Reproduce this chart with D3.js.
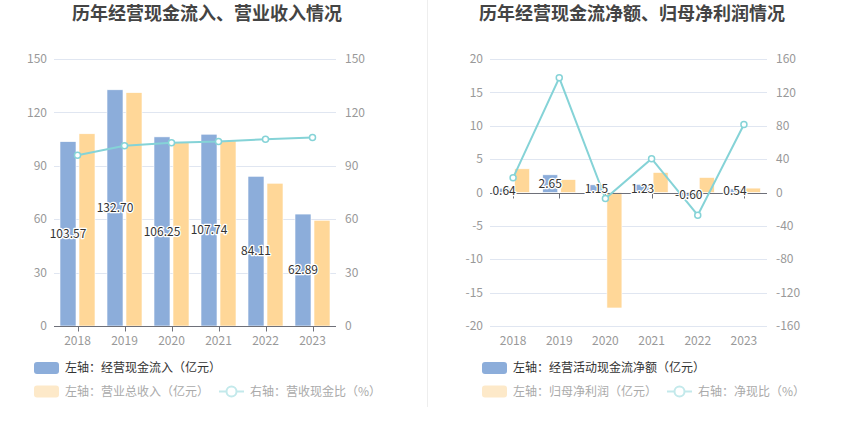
<!DOCTYPE html>
<html><head><meta charset="utf-8">
<script src="https://cdn.jsdelivr.net/npm/d3@7/dist/d3.min.js"></script>
<style>body{margin:0;background:#fff;font-family:"Noto Sans CJK SC","Noto Sans",sans-serif;}</style>
</head><body><svg id="c" width="850" height="437"></svg>
<script>
const years = ["2018","2019","2020","2021","2022","2023"];
// Left chart
const cashInflow = [103.57,132.70,106.25,107.74,84.11,62.89];
const revenue = [108.0,131.1,103.3,104.0,80.2,59.4];
const cashRatio = [95.9,101.2,102.9,103.6,104.9,105.9];
const leftTicks = [0,30,60,90,120,150];
// Right chart
const netCash = [0.64,2.65,1.15,1.23,-0.60,0.54];
const netProfit = [3.55,1.93,-17.3,3.0,2.25,0.66];
const netRatio = [17.6,137.5,-7.2,40.5,-27.2,81.5];
const rLeftTicks = [-20,-15,-10,-5,0,5,10,15,20];
const rRightTicks = [-160,-120,-80,-40,0,40,80,120,160];

const C_BLUE="#8cadda", C_ORANGE="#ffd798", C_LINE="#85d3d7";
const svg = d3.select("#c");
const FONT = '"Noto Sans CJK SC","Noto Sans",sans-serif';

svg.append("line").attr("x1",427.5).attr("x2",427.5).attr("y1",0).attr("y2",407).attr("stroke","#eee");

function chart(o){
  const g = svg.append("g");
  g.append("text").attr("x",o.titleX).attr("y",20).attr("text-anchor","middle")
   .attr("font-size",18).attr("font-weight","bold").attr("fill","#444").attr("font-family",FONT).text(o.title);
  const x = d3.scaleBand().domain(years).range([o.x0,o.x1]);
  const yL = d3.scaleLinear().domain(o.yLdom).range([326,59]);
  const yR = d3.scaleLinear().domain(o.yRdom).range([326,59]);
  // grid
  g.selectAll(".grid").data(o.lTicks).join("line")
   .attr("x1",o.x0).attr("x2",o.x1).attr("y1",d=>Math.round(yL(d))+0.5).attr("y2",d=>Math.round(yL(d))+0.5)
   .attr("stroke","#e0e6f1");
  // left axis labels
  g.selectAll(".ll").data(o.lTicks).join("text").attr("x",o.x0-7).attr("y",d=>yL(d)).attr("dy","0.35em")
   .attr("text-anchor","end").attr("font-size",12).attr("fill","#999").attr("font-family",FONT).text(d=>d);
  g.selectAll(".rl").data(o.rTicks).join("text").attr("x",o.x1+9).attr("y",d=>yR(d)).attr("dy","0.35em")
   .attr("text-anchor","start").attr("font-size",12).attr("fill","#999").attr("font-family",FONT).text(d=>d);
  const bw = o.bw, gap = 3;
  const cx = d=>x(d)+x.bandwidth()/2;
  // bars
  g.selectAll(".b1").data(years).join("rect")
   .attr("x",(d)=>cx(d)-gap/2-bw).attr("width",bw)
   .attr("y",(d,i)=>Math.min(yL(o.s1[i]),yL(0))).attr("height",(d,i)=>Math.abs(yL(o.s1[i])-yL(0)))
   .attr("fill",C_BLUE).attr("stroke","#fff").attr("stroke-width",0.6);
  g.selectAll(".b2").data(years).join("rect")
   .attr("x",(d)=>cx(d)+gap/2).attr("width",bw)
   .attr("y",(d,i)=>Math.min(yL(o.s2[i]),yL(0))).attr("height",(d,i)=>Math.abs(yL(o.s2[i])-yL(0)))
   .attr("fill",C_ORANGE).attr("stroke","#fff").attr("stroke-width",0.6);
  // x axis line at zero
  const y0 = Math.round(yL(0))+0.5;
  g.append("line").attr("x1",o.x0).attr("x2",o.x1).attr("y1",y0).attr("y2",y0).attr("stroke","#6e7079");
  g.selectAll(".tk").data(years).join("line").attr("x1",d=>Math.round(cx(d))+0.5).attr("x2",d=>Math.round(cx(d))+0.5)
   .attr("y1",y0).attr("y2",y0+5).attr("stroke","#6e7079");
  g.selectAll(".xl").data(years).join("text").attr("x",d=>cx(d)).attr("y",345)
   .attr("text-anchor","middle").attr("font-size",12).attr("fill","#999").attr("font-family",FONT).text(d=>d);
  // line
  const line = d3.line().x((d,i)=>cx(years[i])).y(d=>yR(d));
  g.append("path").attr("d",line(o.s3)).attr("fill","none").attr("stroke",C_LINE).attr("stroke-width",2);
  g.selectAll(".pt").data(o.s3).join("circle").attr("cx",(d,i)=>cx(years[i])).attr("cy",d=>yR(d)).attr("r",3)
   .attr("fill","#fff").attr("stroke",C_LINE).attr("stroke-width",1.5);
  // labels
  g.selectAll(".lab").data(o.s1).join("text")
   .attr("x",(d,i)=>cx(years[i])-gap/2-bw/2).attr("y",d=>(yL(d)+yL(0))/2).attr("dy","0.35em")
   .attr("text-anchor","middle").attr("font-size",12).attr("fill","#333").attr("font-family",FONT)
   .attr("stroke","#fff").attr("stroke-width",2.5).attr("paint-order","stroke").attr("stroke-linejoin","round")
   .text(d=>d.toFixed(2));
  // legend
  const L = o.legend;
  const lg = g.append("g");
  lg.append("rect").attr("x",L.x).attr("y",362).attr("width",25).attr("height",12).attr("rx",3).attr("fill",C_BLUE);
  lg.append("text").attr("x",L.x+31).attr("y",368).attr("dy","0.35em").attr("font-size",12).attr("fill","#333").attr("font-family",FONT).text(L.t1);
  lg.append("rect").attr("x",L.x).attr("y",385.5).attr("width",25).attr("height",12).attr("rx",3).attr("fill","#fde9c9");
  lg.append("text").attr("x",L.x+31).attr("y",391.5).attr("dy","0.35em").attr("font-size",12).attr("fill","#aaa").attr("font-family",FONT).text(L.t2);
  lg.append("line").attr("x1",L.lx).attr("x2",L.lx+25).attr("y1",391.5).attr("y2",391.5).attr("stroke","#c3e9eb").attr("stroke-width",2);
  lg.append("circle").attr("cx",L.lx+12.5).attr("cy",391.5).attr("r",5).attr("fill","#fff").attr("stroke","#c3e9eb").attr("stroke-width",2);
  lg.append("text").attr("x",L.lx+31).attr("y",391.5).attr("dy","0.35em").attr("font-size",12).attr("fill","#aaa").attr("font-family",FONT).text(L.t3);
}

chart({title:"历年经营现金流入、营业收入情况", titleX:207, x0:54, x1:336, yLdom:[0,150], yRdom:[0,150],
  lTicks:leftTicks, rTicks:leftTicks, s1:cashInflow, s2:revenue, s3:cashRatio, bw:16,
  legend:{x:34, lx:219, t1:"左轴：经营现金流入（亿元）", t2:"左轴：营业总收入（亿元）", t3:"右轴：营收现金比（%）"}});
chart({title:"历年经营现金流净额、归母净利润情况", titleX:632, x0:490, x1:767, yLdom:[-20,20], yRdom:[-160,160],
  lTicks:rLeftTicks, rTicks:rRightTicks, s1:netCash, s2:netProfit, s3:netRatio, bw:15,
  legend:{x:482, lx:667, t1:"左轴：经营活动现金流净额（亿元）", t2:"左轴：归母净利润（亿元）", t3:"右轴：净现比（%）"}});
</script></body></html>
